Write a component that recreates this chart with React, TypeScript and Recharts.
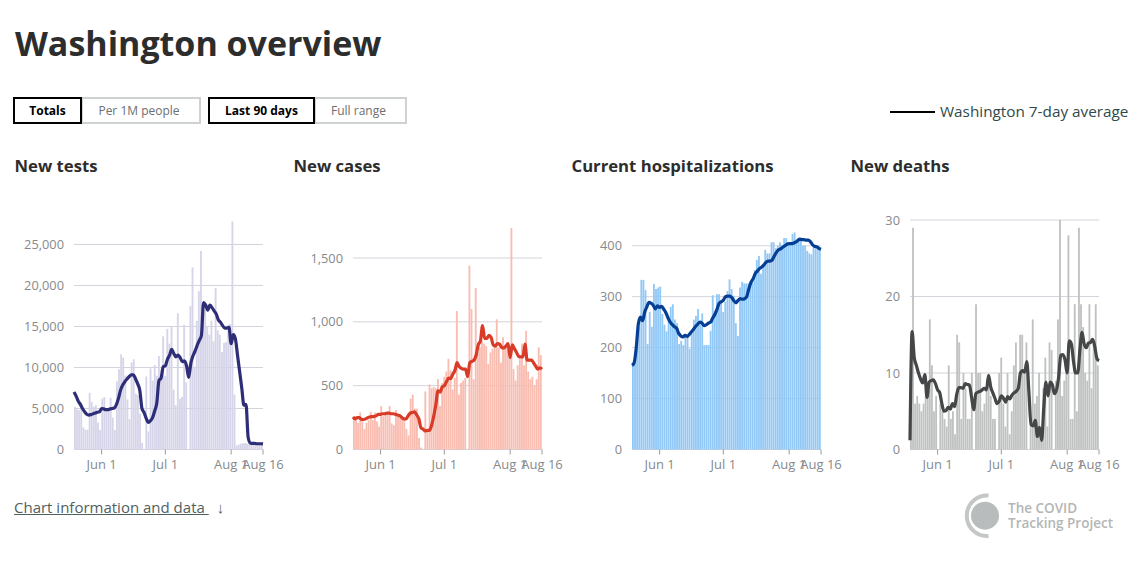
import { Bar, CartesianGrid, ComposedChart, Line, XAxis, YAxis } from 'recharts';

const FONT = '"Open Sans", sans-serif';

const testBars = [5200, 4900, 4800, 5000, 2700, 2400, 2400, 6900, 5800, 5200, 5400, 3300, 2400, 6200, 6400, 4900, 4900, 6300, 3900, 2400, 8300, 9800, 11600, 11200, 9000, 6100, 3700, 10600, 11000, 6800, 6600, 4400, 800, 0, 8900, 2200, 9900, 8400, 10300, 9000, 11400, 8500, 13800, 9000, 14700, 12900, 15000, 7300, 5400, 16600, 6200, 6400, 15200, 8200, 0, 17500, 22200, 10100, 15700, 19300, 24200, 16800, 17000, 15000, 14000, 15700, 13200, 19700, 14500, 14000, 11900, 13000, 13100, 15200, 15300, 27800, 6700, 500, 600, 700, 750, 800, 700, 700, 650, 650, 600, 600, 600, 600];
const testLine = [7000, 6500, 5900, 5500, 5000, 4600, 4300, 4200, 4250, 4350, 4450, 4550, 4600, 5000, 4950, 4850, 4850, 4950, 5000, 5050, 5500, 6300, 7300, 7900, 8300, 8600, 8900, 9100, 9100, 8600, 8000, 7200, 5000, 4500, 3800, 3300, 3500, 3900, 4700, 5700, 8400, 8700, 10100, 10200, 11000, 11500, 12200, 11700, 11300, 11500, 11200, 10700, 10800, 10200, 8800, 10500, 11400, 12000, 12700, 13300, 13900, 17900, 17600, 17000, 17600, 17300, 16900, 16500, 15800, 15500, 15100, 14800, 14800, 14900, 12900, 14000, 13500, 11500, 9500, 7500, 5400, 5500, 1500, 800, 750, 750, 700, 700, 700, 680];

const caseBars = [260, 230, 210, 290, 250, 160, 210, 230, 295, 230, 290, 220, 180, 340, 260, 270, 280, 340, 205, 190, 310, 270, 260, 260, 240, 160, 110, 400, 430, 320, 320, 90, 15, 0, 455, 140, 510, 480, 490, 480, 550, 340, 520, 570, 610, 710, 620, 470, 560, 1085, 430, 520, 540, 560, 0, 1440, 1100, 550, 1265, 760, 800, 850, 830, 810, 670, 760, 790, 800, 1020, 800, 680, 880, 790, 820, 800, 1735, 630, 540, 660, 710, 830, 660, 930, 610, 550, 570, 500, 550, 800, 740];
const caseLine = [255, 240, 250, 250, 235, 235, 240, 250, 255, 258, 258, 265, 275, 275, 280, 280, 285, 285, 280, 280, 275, 270, 265, 250, 240, 240, 265, 285, 290, 295, 270, 240, 170, 160, 145, 150, 150, 190, 260, 350, 460, 450, 490, 500, 530, 560, 555, 590, 620, 680, 650, 635, 630, 630, 570, 680, 690, 700, 740, 820, 850, 970, 870, 870, 895, 880, 820, 810, 830, 825, 800, 795, 810, 830, 720, 820, 790, 760, 730, 725, 725, 825, 700, 700, 700, 680, 655, 630, 640, 630];

const hospBars = [165, 170, 200, 240, 333, 333, 313, 207, 270, 241, 325, 315, 318, 320, 266, 245, 232, 262, 280, 285, 255, 248, 207, 213, 205, 225, 222, 198, 235, 255, 262, 276, 245, 267, 205, 205, 205, 233, 303, 272, 305, 305, 288, 270, 290, 311, 334, 315, 302, 248, 223, 318, 329, 326, 326, 326, 326, 330, 352, 372, 380, 345, 362, 392, 385, 385, 407, 407, 395, 400, 407, 402, 415, 415, 405, 405, 423, 426, 410, 412, 412, 400, 400, 390, 385, 383, 398, 398, 395, 393];
const hospLine = [165, 170, 200, 247, 260, 253, 270, 280, 289, 287, 283, 276, 282, 279, 281, 275, 268, 258, 250, 245, 241, 238, 228, 223, 221, 224, 222, 226, 231, 236, 242, 246, 250, 248, 243, 245, 248, 250, 258, 265, 275, 287, 290, 293, 300, 301, 301, 298, 292, 288, 293, 296, 295, 296, 300, 315, 328, 335, 345, 350, 355, 358, 362, 367, 370, 370, 372, 380, 387, 392, 394, 397, 400, 403, 404, 404, 405, 407, 410, 413, 412, 412, 411, 411, 408, 402, 399, 398, 395, 393];

const deathBars = [13, 29, 6, 7, 6, 5, 6, 7, 7, 17, 11, 5, 7, 0, 6, 5, 4, 3, 11, 4, 5, 2, 15, 14, 4, 10, 8, 4, 4, 10, 0, 19, 10, 10, 5, 6, 8, 9, 7, 4, 4, 0, 10, 12, 6, 3, 10, 2, 5, 11, 14, 8, 15, 15, 10, 14, 0, 3, 17, 6, 7, 10, 2, 8, 12, 3, 14, 13, 0, 9, 17, 30, 7, 9, 10, 28, 4, 4, 19, 5, 29, 19, 16, 10, 9, 19, 8, 14, 19, 11];
const deathLine = [1.2, 15.4, 12, 11, 10, 9.2, 8.7, 9.8, 6.8, 8.8, 9, 9.1, 8.6, 7.8, 7.4, 6, 5, 5.1, 5.5, 5.3, 6, 5.6, 7.2, 8.1, 8.1, 8, 8.6, 8.5, 8.4, 6.8, 5.2, 7.3, 7.5, 7.6, 7.8, 8, 7.8, 9.7, 8.2, 7.4, 6.7, 6, 6.3, 7, 6.7, 6.2, 6.9, 6.6, 7.1, 7.4, 7.6, 8, 10, 10.3, 10.1, 11.5, 7.5, 3.2, 3.1, 3.8, 1.7, 2.9, 1.2, 5.5, 8.8, 7, 8.8, 8.5, 7.3, 7.8, 9.5, 12.3, 12.4, 11.7, 10, 14.2, 13.8, 11.5, 10, 10, 13, 15.3, 13.8, 13.3, 13.9, 14, 14.4, 13.5, 11.9, 11.6];

const dateTicks = [13, 43, 74, 89];
const dateLabels = ['Jun 1', 'Jul 1', 'Aug 1', 'Aug 16'];

const testTicks = [0, 5000, 10000, 15000, 20000, 25000];
const caseTicks = [0, 500, 1000, 1500];
const hospTicks = [0, 100, 200, 300, 400];
const deathTicks = [0, 10, 20, 30];

const BASELINE = 449.5;
const CHART_TOP = 210;
const CHART_H = 280;

interface PanelProps {
  title: string;
  titleLeft: number;
  plotLeft: number;
  plotHeight: number;
  yMax: number;
  yTicks: number[];
  bars: number[];
  line: number[];
  barColor: string;
  lineColor: string;
}

function Panel({ title, titleLeft, plotLeft, plotHeight, yMax, yTicks, bars, line, barColor, lineColor }: PanelProps) {
  const data = bars.map((b, i) => ({ day: i, bar: b, avg: line[i] }));
  return (
    <>
      <div style={{ position: 'absolute', left: titleLeft, top: 154, fontFamily: FONT, fontWeight: 700, fontSize: 16.7, color: '#2d2d2d', whiteSpace: 'nowrap' }}>{title}</div>
      <div style={{ position: 'absolute', left: plotLeft - 70, top: CHART_TOP }}>
        <ComposedChart
          width={290}
          height={CHART_H}
          data={data}
          margin={{ top: BASELINE - plotHeight - CHART_TOP, right: 31, bottom: CHART_TOP + CHART_H - BASELINE - 30, left: 10 }}
        >
          <CartesianGrid vertical={false} horizontalValues={yTicks} stroke="#d3d3dc" xAxisId="time" />
          <XAxis
            xAxisId="time"
            type="number"
            dataKey="day"
            domain={[0, 89]}
            ticks={dateTicks}
            interval={0}
            height={30}
            axisLine={false}
            tickLine={{ stroke: '#9a9a9a' }}
            tickSize={5}
            tickMargin={5}
            tick={{ fontSize: 13, fill: '#868a8d', fontFamily: FONT }}
            tickFormatter={(v: number) => dateLabels[dateTicks.indexOf(v)]}
          />
          <XAxis xAxisId="bars" type="category" dataKey="day" scale="band" height={0} hide />
          <YAxis
            width={60}
            domain={[0, yMax]}
            ticks={yTicks}
            interval={0}
            axisLine={false}
            tickLine={false}
            tickMargin={4}
            tick={{ fontSize: 12.8, fill: '#868a8d', fontFamily: FONT }}
            tickFormatter={(v: number) => v.toLocaleString('en-US')}
          />
          <Bar xAxisId="bars" dataKey="bar" fill={barColor} barSize={1.85} isAnimationActive={false} />
          <Line xAxisId="time" type="monotone" dataKey="avg" stroke={lineColor} strokeWidth={3.2} dot={false} isAnimationActive={false} />
        </ComposedChart>
      </div>
    </>
  );
}

function Toggle({ left, width, label, sub, subWidth }: { left: number; width: number; label: string; sub: string; subWidth: number }) {
  const base = { position: 'absolute' as const, top: 97, height: 27, boxSizing: 'border-box' as const, fontFamily: FONT, fontSize: 12, lineHeight: '24px', textAlign: 'center' as const };
  return (
    <>
      <div style={{ ...base, left: left + width - 1, width: subWidth, paddingRight: 4, border: '2px solid #cfd2d3', color: '#6b7071' }}>{sub}</div>
      <div style={{ ...base, left, width, border: '2px solid #000', color: '#000', fontWeight: 700, background: '#fff' }}>{label}</div>
    </>
  );
}

export default function App() {
  return (
    <div style={{ position: 'absolute', left: 0, top: 0, width: 1140, height: 570, background: '#fff', overflow: 'hidden' }}>
      <div style={{ position: 'absolute', left: 15, top: 20, fontFamily: FONT, fontWeight: 700, fontSize: 34, color: '#2d2d2d', whiteSpace: 'nowrap' }}>Washington overview</div>

      <Toggle left={13} width={69} label="Totals" sub="Per 1M people" subWidth={120} />
      <Toggle left={208} width={107} label="Last 90 days" sub="Full range" subWidth={93} />

      <div style={{ position: 'absolute', left: 890, top: 111, width: 45, height: 2, background: '#000' }} />
      <div style={{ position: 'absolute', left: 940, top: 101, fontFamily: FONT, fontSize: 15.3, color: '#2f4a4a', whiteSpace: 'nowrap' }}>Washington 7-day average</div>

      <Panel title="New tests" titleLeft={14.5} plotLeft={74} plotHeight={228} yMax={27800} yTicks={testTicks} bars={testBars} line={testLine} barColor="#d6d4e9" lineColor="#2e2e78" />
      <Panel title="New cases" titleLeft={293.5} plotLeft={353} plotHeight={221.5} yMax={1735} yTicks={caseTicks} bars={caseBars} line={caseLine} barColor="#f9bcb0" lineColor="#d83b27" />
      <Panel title="Current hospitalizations" titleLeft={571.5} plotLeft={632} plotHeight={217} yMax={426} yTicks={hospTicks} bars={hospBars} line={hospLine} barColor="#92c8f6" lineColor="#053f94" />
      <Panel title="New deaths" titleLeft={850.5} plotLeft={910} plotHeight={229.5} yMax={30} yTicks={deathTicks} bars={deathBars} line={deathLine} barColor="#bfc2c1" lineColor="#444647" />

      <div style={{ position: 'absolute', left: 14, top: 497, fontFamily: FONT, fontSize: 15, color: '#4f6060', whiteSpace: 'nowrap' }}>
        <span style={{ textDecoration: 'underline' }}>Chart information and data </span>
        <span style={{ marginLeft: 8 }}>↓</span>
      </div>

      <svg style={{ position: 'absolute', left: 960, top: 490 }} width={50} height={52}>
        <circle cx={25} cy={25.7} r={14} fill="#b9bcbc" />
        <path d="M 28.5 5.5 A 20.3 20.3 0 1 0 28.5 46" fill="none" stroke="#c4c7c7" strokeWidth={4} />
      </svg>
      <div style={{ position: 'absolute', left: 1008, top: 501, fontFamily: FONT, fontWeight: 600, fontSize: 13.5, lineHeight: '15px', color: '#b3b6b6', whiteSpace: 'nowrap' }}>
        The COVID<br />Tracking Project
      </div>
    </div>
  );
}
